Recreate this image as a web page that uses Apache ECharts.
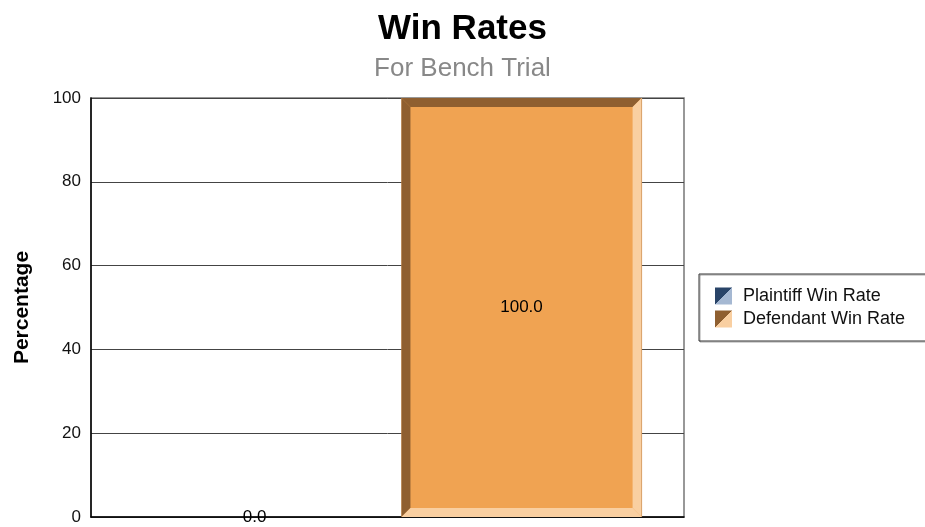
<!DOCTYPE html>
<html>
<head>
<meta charset="utf-8">
<title>Win Rates</title>
<script src="https://cdn.jsdelivr.net/npm/echarts@6/dist/echarts.min.js"></script>
<style>
  html, body { margin: 0; padding: 0; background: #fff; }
  #chart { width: 925px; height: 527px; }
</style>
</head>
<body>
<div id="chart"></div>
<script>
// chart data
var categories = ['Bench Trial'];
var seriesNames = ['Plaintiff Win Rate', 'Defendant Win Rate'];
var plaintiffRates = [0.0];
var defendantRates = [100.0];
var yTicks = [0, 20, 40, 60, 80, 100];

// bevel colours per series: face, dark edge, light edge
var palette = [
    { face: '#4f73a6', dark: '#294468', light: '#a5b8d2' },
    { face: '#f0a352', dark: '#8f5f30', light: '#f9cfa1' }
];

var BAR_WIDTH = 0.405;   // share of the category band
var BAR_OFFSET = [-0.224, 0.226];
var BEVEL = 9;

function makeRender(idx) {
    var c = palette[idx];
    return function (params, api) {
        var band = api.size([1, 0])[0];
        var w = band * BAR_WIDTH;
        var basePt = api.coord([api.value(0), 0]);
        var topPt = api.coord([api.value(0), api.value(1)]);
        var x = basePt[0] + BAR_OFFSET[idx] * band - w / 2;
        var y = topPt[1];
        var h = basePt[1] - topPt[1];
        var b = Math.min(BEVEL, h / 2, w / 2);
        var kids = [];
        if (h > 0) {
            kids.push({ type: 'rect', shape: { x: x, y: y, width: w, height: h }, style: { fill: c.face } });
            // left + top dark
            kids.push({ type: 'polygon', shape: { points: [[x, y], [x + b, y + b], [x + b, y + h - b], [x, y + h]] }, style: { fill: c.dark } });
            kids.push({ type: 'polygon', shape: { points: [[x, y], [x + w, y], [x + w - b, y + b], [x + b, y + b]] }, style: { fill: c.dark } });
            // right + bottom light
            kids.push({ type: 'polygon', shape: { points: [[x + w, y], [x + w, y + h], [x + w - b, y + h - b], [x + w - b, y + b]] }, style: { fill: c.light } });
            kids.push({ type: 'polygon', shape: { points: [[x, y + h], [x + b, y + h - b], [x + w - b, y + h - b], [x + w, y + h]] }, style: { fill: c.light } });
            kids.push({ type: 'line', shape: { x1: x + w, y1: y, x2: x + w, y2: y + h }, style: { stroke: '#d9a36a', lineWidth: 1 } });
        }
        kids.push({
            type: 'text',
            z2: 10,
            style: {
                text: api.value(1).toFixed(1),
                x: x + w / 2,
                y: y + h / 2,
                align: 'center',
                verticalAlign: 'middle',
                fill: '#000',
                font: '17px "Liberation Sans", Arial, sans-serif'
            }
        });
        return { type: 'group', children: kids };
    };
}

function legendIcon(c) {
    return {
        color: {
            type: 'linear', x: 0, y: 0, x2: 1, y2: 1,
            colorStops: [
                { offset: 0, color: c.dark }, { offset: 0.5, color: c.dark },
                { offset: 0.5, color: c.light }, { offset: 1, color: c.light }
            ]
        },
        borderWidth: 0
    };
}

var chart = echarts.init(document.getElementById('chart'));
chart.setOption({
    animation: false,
    textStyle: { fontFamily: '"Liberation Sans", Arial, sans-serif' },
    title: {
        text: 'Win Rates',
        subtext: 'For Bench Trial',
        left: 'center',
        top: 7,
        itemGap: 9,
        textStyle: { fontSize: 35, fontWeight: 'bold', color: '#000' },
        subtextStyle: { fontSize: 26, color: '#888' }
    },
    legend: {
        orient: 'vertical',
        left: 699,
        top: 274,
        padding: [13, 40, 13, 16],
        itemWidth: 17,
        itemHeight: 17,
        itemGap: 5,
        borderColor: '#333',
        borderWidth: 1,
        shadowColor: 'rgba(0,0,0,0.35)',
        shadowOffsetX: 1,
        shadowOffsetY: 1,
        textStyle: { fontSize: 18, color: '#111', padding: [0, 0, 0, 6] },
        data: [
            { name: seriesNames[0], icon: 'rect', itemStyle: legendIcon(palette[0]) },
            { name: seriesNames[1], icon: 'rect', itemStyle: legendIcon(palette[1]) }
        ]
    },
    grid: {
        left: 91, right: 241, top: 98, bottom: 10,
        show: true, borderColor: '#777', borderWidth: 1.5
    },
    xAxis: {
        type: 'category',
        data: categories,
        axisLabel: { show: false },
        axisTick: { show: false },
        axisLine: { lineStyle: { color: '#000', width: 1.5 } }
    },
    yAxis: {
        type: 'value',
        min: yTicks[0],
        max: yTicks[yTicks.length - 1],
        interval: 20,
        name: 'Percentage',
        nameLocation: 'middle',
        nameGap: 58,
        nameTextStyle: { fontSize: 21, fontWeight: 'bold', color: '#000' },
        axisLine: { show: true, lineStyle: { color: '#000', width: 1.5 } },
        axisTick: { show: false },
        axisLabel: { fontSize: 17, color: '#111', margin: 10 },
        splitLine: { lineStyle: { color: '#444', width: 1 } }
    },
    series: [
        {
            name: seriesNames[0],
            type: 'custom',
            renderItem: makeRender(0),
            itemStyle: { color: palette[0].face },
            encode: { x: 0, y: 1 },
            data: categories.map(function (c, i) { return [c, plaintiffRates[i]]; })
        },
        {
            name: seriesNames[1],
            type: 'custom',
            renderItem: makeRender(1),
            itemStyle: { color: palette[1].face },
            encode: { x: 0, y: 1 },
            data: categories.map(function (c, i) { return [c, defendantRates[i]]; })
        }
    ]
});
</script>
</body>
</html>
